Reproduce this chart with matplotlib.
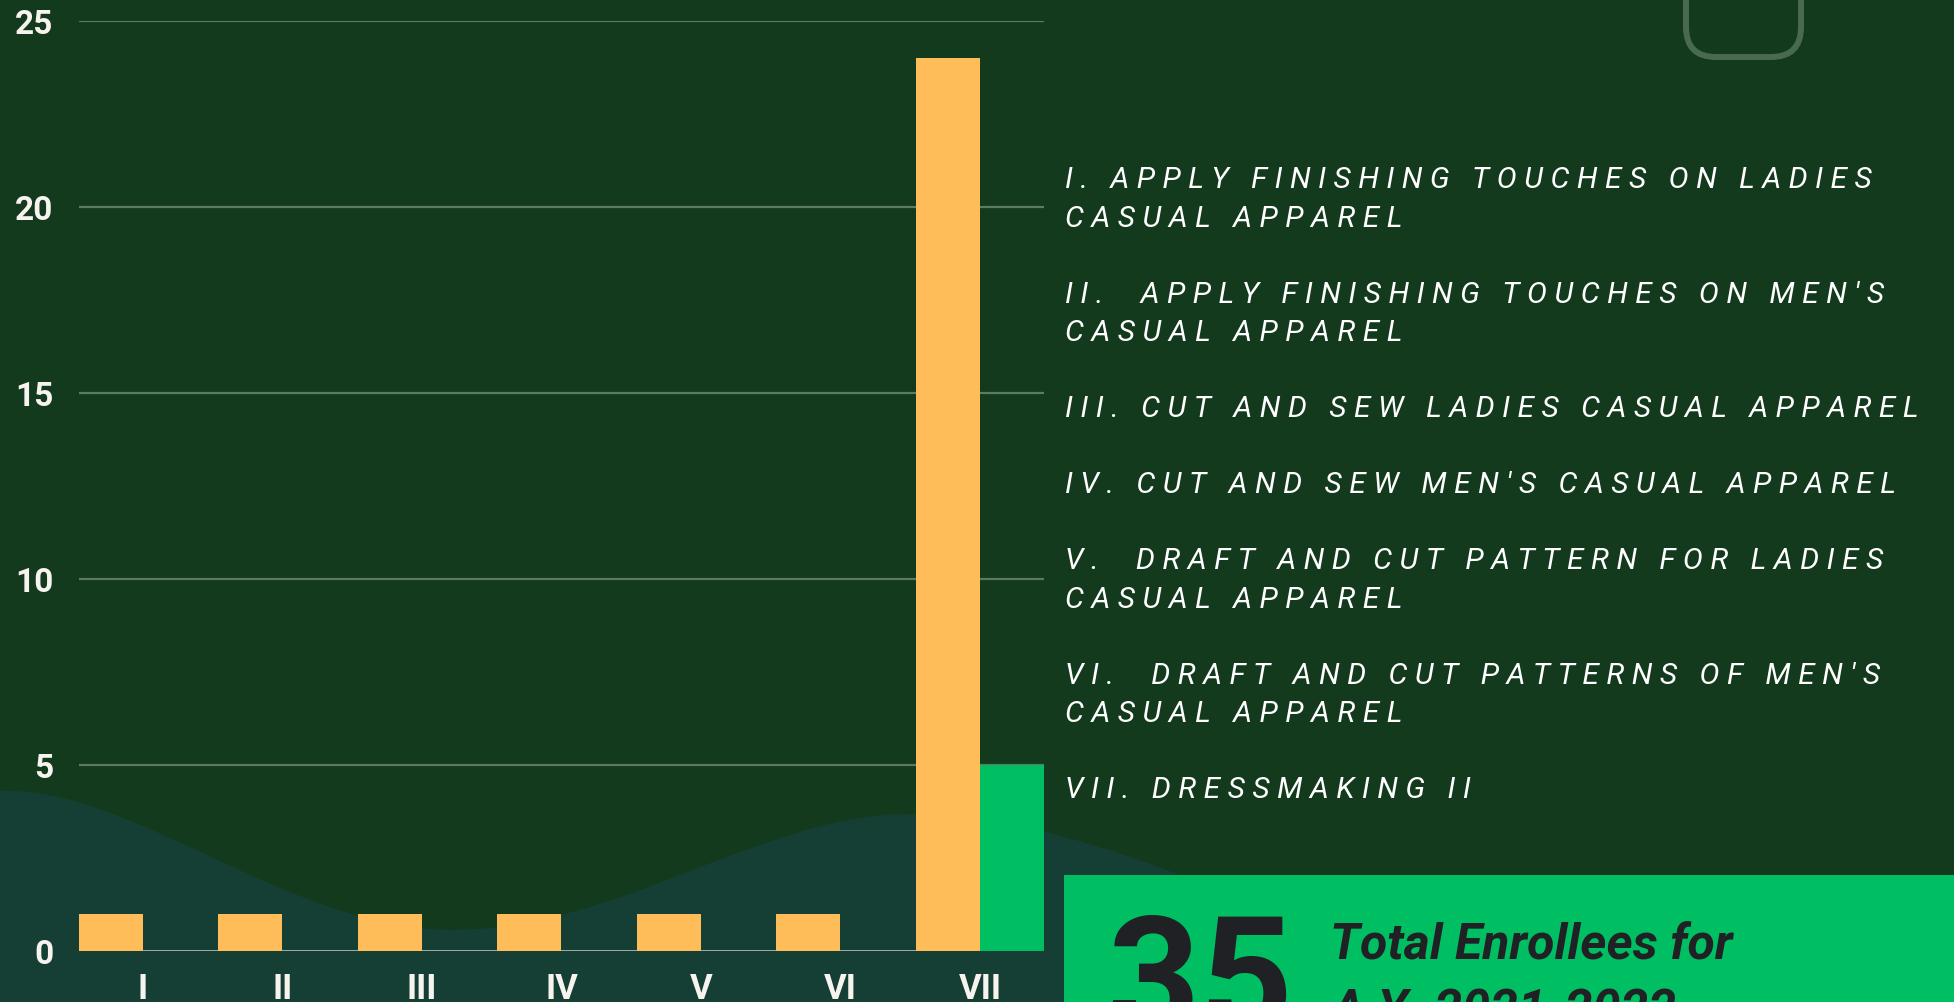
import numpy as np
import matplotlib.pyplot as plt
from matplotlib.path import Path
from matplotlib.patches import PathPatch, FancyBboxPatch, Rectangle

# data
categories = ['I', 'II', 'III', 'IV', 'V', 'VI', 'VII']
series_a = [1, 1, 1, 1, 1, 1, 24]
series_b = [0, 0, 0, 0, 0, 0, 5]
y_ticks = [0, 5, 10, 15, 20, 25]
course_lines = [
    ["I. APPLY FINISHING TOUCHES ON LADIES", "CASUAL APPAREL"],
    ["II.  APPLY FINISHING TOUCHES ON MEN'S", "CASUAL APPAREL"],
    ["III. CUT AND SEW LADIES CASUAL APPAREL"],
    ["IV. CUT AND SEW MEN'S CASUAL APPAREL"],
    ["V.  DRAFT AND CUT PATTERN FOR LADIES", "CASUAL APPAREL"],
    ["VI.  DRAFT AND CUT PATTERNS OF MEN'S", "CASUAL APPAREL"],
    ["VII. DRESSMAKING II"],
]
total = "35"
total_label = ["Total Enrollees for", "A.Y. 2021-2022"]

BG = '#143a1e'
WAVE = '#153f35'
ORANGE = '#ffbd59'
GREEN = '#00bf63'
GRID = '#5b7a60'
TXT = '#f7f3ee'
DARK = '#202124'
FONT = ['Roboto', 'DejaVu Sans']

W, H = 1954, 1003
fig = plt.figure(figsize=(W / 100, H / 100), dpi=100)
fig.patch.set_facecolor(BG)

# background layer in pixel coordinates
bg = fig.add_axes([0, 0, 1, 1], zorder=0)
bg.set_xlim(0, W)
bg.set_ylim(H, 0)
bg.axis('off')

wave_verts = [(0, 792), (130, 786), (290, 931), (451, 931),
              (620, 931), (760, 815), (911, 815),
              (1100, 815), (1300, 940), (1550, 1010),
              (1550, 1030), (0, 1030), (0, 792)]
wave_codes = [Path.MOVETO] + [Path.CURVE4] * 9 + [Path.LINETO, Path.LINETO, Path.CLOSEPOLY]
bg.add_patch(PathPatch(Path(wave_verts, wave_codes), facecolor=WAVE, edgecolor='none', zorder=1))

bg.add_patch(FancyBboxPatch((1686, -100), 115, 158, boxstyle='round,pad=0,rounding_size=30',
                            fill=False, edgecolor='#4a6a4f', linewidth=4.3, zorder=2))

bg.add_patch(Rectangle((1064, 876), 900, 200, facecolor=GREEN, edgecolor='none', zorder=3))
bg.text(1108, 1031, total, fontsize=116, fontweight='bold', family=FONT, color=DARK,
        va='baseline', ha='left', zorder=4)
bg.text(1330, 959, total_label[0], fontsize=36, fontweight='bold', style='italic', family=FONT,
        color=DARK, va='baseline', ha='left', zorder=4)
bg.text(1332, 1025, total_label[1], fontsize=36, fontweight='bold', style='italic', family=FONT,
        color=DARK, va='baseline', ha='left', zorder=4)


def track(s):
    # wide letter spacing
    return '\u2005'.join(s)


y = 188
for item in course_lines:
    for line in item:
        bg.text(1065, y, track(line), fontsize=21.5, style='italic', fontweight='normal',
                family=FONT, color='white', va='baseline', ha='left', zorder=4)
        y += 38.5
    y += 76 - 38.5

# chart
ax = fig.add_axes([79 / W, (H - 952) / H, (1044 - 79) / W, (952 - 22) / H], zorder=2)
ax.set_facecolor('none')
x = np.arange(len(categories))
w = 64 / 139.5
ax.bar(x - w / 2, series_a, w, color=ORANGE, zorder=3)
ax.bar(x + w / 2, series_b, w, color=GREEN, zorder=3)
for v in y_ticks[1:]:
    ax.axhline(v, color=GRID, linewidth=1.6, zorder=1)
ax.axhline(0, color='#b9bfb9', linewidth=1.2, zorder=2)
ax.set_xlim(-w, len(categories) - 1 + w)
ax.set_ylim(0, 25)
ax.set_yticks(y_ticks)
ax.set_xticks(x)
ax.set_xticklabels(categories)
for s in ax.spines.values():
    s.set_visible(False)
ax.tick_params(axis='y', length=0, pad=18.5, labelsize=24, labelcolor=TXT)
ax.tick_params(axis='x', length=0, pad=15, labelsize=25, labelcolor=TXT)
for lab in ax.get_xticklabels() + ax.get_yticklabels():
    lab.set_fontweight('bold')
    lab.set_family(FONT)

fig.savefig('out.png', dpi=100, facecolor=BG)
